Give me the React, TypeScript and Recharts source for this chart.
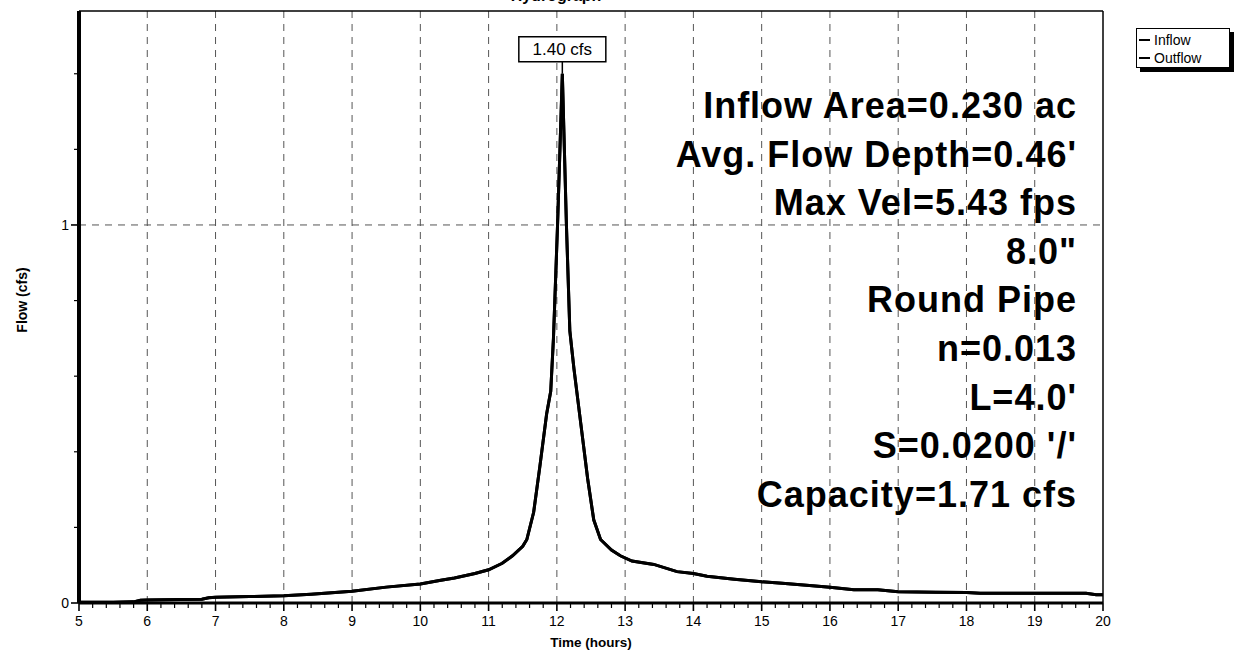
import React from 'react';
import { LineChart, Line, XAxis, YAxis, ReferenceLine, ReferenceDot } from 'recharts';

const timeHours = [
  5.0, 5.5, 5.8, 5.9, 6.0, 6.5, 6.8, 6.9, 7.0, 7.5, 8.0, 8.4, 8.7, 9.0, 9.5, 10.0, 10.3, 10.5, 10.8, 11.0,
  11.2, 11.35, 11.5, 11.56, 11.66, 11.75, 11.85, 11.91, 11.95, 12.01, 12.08, 12.14, 12.19, 12.25, 12.35,
  12.45, 12.54, 12.64, 12.8, 12.93, 13.1, 13.42, 13.76, 14.0, 14.2, 14.6, 15.0, 15.3, 15.7, 16.0, 16.35,
  16.7, 17.0, 17.55, 18.0, 18.2, 19.0, 19.75, 19.9, 20.0,
];
const inflowCfs = [
  0.002, 0.002, 0.003, 0.007, 0.008, 0.009, 0.01, 0.014, 0.015, 0.017, 0.019, 0.023, 0.027, 0.031, 0.042,
  0.05, 0.06, 0.066, 0.078, 0.088, 0.105, 0.125, 0.15, 0.168, 0.24, 0.36, 0.5, 0.56, 0.7, 1.0, 1.4, 1.0,
  0.72, 0.62, 0.475, 0.33, 0.22, 0.168, 0.14, 0.125, 0.111, 0.102, 0.083, 0.078, 0.071, 0.063, 0.056,
  0.052, 0.046, 0.0415, 0.035, 0.035, 0.03, 0.0285, 0.028, 0.026, 0.026, 0.026, 0.022, 0.022,
];
const outflowCfs = [
  0.002, 0.002, 0.003, 0.007, 0.008, 0.009, 0.01, 0.014, 0.015, 0.017, 0.019, 0.023, 0.027, 0.031, 0.042,
  0.05, 0.06, 0.066, 0.078, 0.088, 0.105, 0.125, 0.15, 0.168, 0.24, 0.36, 0.5, 0.56, 0.7, 1.0, 1.4, 1.0,
  0.72, 0.62, 0.475, 0.33, 0.22, 0.168, 0.14, 0.125, 0.111, 0.102, 0.083, 0.078, 0.071, 0.063, 0.056,
  0.052, 0.046, 0.0415, 0.035, 0.035, 0.03, 0.0285, 0.028, 0.026, 0.026, 0.026, 0.022, 0.022,
];

const xMajorTicks = [5, 6, 7, 8, 9, 10, 11, 12, 13, 14, 15, 16, 17, 18, 19, 20];
const xGridHours = [6, 7, 8, 9, 10, 11, 12, 13, 14, 15, 16, 17, 18, 19];
const xAllTicks = Array.from({ length: 76 }, (_, i) => Math.round((5 + i * 0.2) * 10) / 10);
const yMajorTicks = [0, 1];
const yAllTicks = [0, 0.2, 0.4, 0.6, 0.8, 1, 1.2, 1.4];
const yGridValues = [1];
const X_DOMAIN: [number, number] = [5, 20];
const Y_MAX = 1.566;

const peakTime = 12.08;
const peakFlow = 1.4;
const peakLabel = '1.40 cfs';

const legendItems = ['Inflow', 'Outflow'];
const annotationLines = [
  'Inflow Area=0.230 ac',
  'Avg. Flow Depth=0.46\'',
  'Max Vel=5.43 fps',
  '8.0"',
  'Round Pipe',
  'n=0.013',
  'L=4.0\'',
  'S=0.0200 \'/\'',
  'Capacity=1.71 cfs',
];
const chartTitle = 'Hydrograph';
const xLabel = 'Time  (hours)';
const yLabel = 'Flow  (cfs)';

const data = timeHours.map((t, i) => ({ t, inflow: inflowCfs[i], outflow: outflowCfs[i] }));

const FONT = '"Liberation Sans", Arial, Helvetica, sans-serif';

const XTick = (props: any) => {
  const { x, y, payload } = props;
  const v = payload.value;
  const major = xMajorTicks.includes(v);
  return (
    <g>
      <line x1={x} y1={y} x2={x} y2={y + (major ? 8 : 5)} stroke="#000" strokeWidth={major ? 1.6 : 1.2} />
      {major && (
        <text x={x} y={y + 23} textAnchor="middle" fontSize={14} fontFamily={FONT} fill="#000">
          {v}
        </text>
      )}
    </g>
  );
};

const YTick = (props: any) => {
  const { x, y, payload } = props;
  const v = payload.value;
  const major = yMajorTicks.includes(v);
  return (
    <g>
      <line x1={x} y1={y} x2={x - (major ? 8 : 5)} y2={y} stroke="#000" strokeWidth={major ? 1.6 : 1.2} />
      {major && (
        <text x={x - 10} y={y} textAnchor="end" dominantBaseline="central" fontSize={14} fontFamily={FONT} fill="#000">
          {v}
        </text>
      )}
    </g>
  );
};

const PeakShape = (props: any) => {
  const { cx, cy } = props;
  if (cx == null || cy == null) return null;
  const w = 87;
  const h = 25;
  const gap = 12;
  return (
    <g>
      <line x1={cx} y1={cy} x2={cx} y2={cy - gap} stroke="#000" strokeWidth={1.5} />
      <rect x={cx - w / 2} y={cy - gap - h} width={w} height={h} fill="#fff" stroke="#000" strokeWidth={1.5} />
      <text x={cx} y={cy - gap - h / 2} textAnchor="middle" dominantBaseline="central" fontSize={17} fontFamily={FONT} fill="#000">
        {peakLabel}
      </text>
    </g>
  );
};

export default function App() {
  return (
    <div style={{ position: 'absolute', left: 0, top: 0, width: 1235, height: 656, background: '#fff', overflow: 'hidden', fontFamily: FONT }}>
      <LineChart width={1235} height={656} data={data} margin={{ top: 11, right: 132, bottom: 23, left: 49 }}>
        <XAxis
          type="number"
          dataKey="t"
          domain={X_DOMAIN}
          ticks={xAllTicks}
          interval={0}
          height={30}
          axisLine={{ stroke: '#000', strokeWidth: 3 }}
          tickLine={false}
          tickSize={0}
          tickMargin={0}
          tick={XTick}
          allowDataOverflow
          label={{ value: xLabel, position: 'bottom', offset: 4, fontSize: 13.5, fontWeight: 'bold', fill: '#000', fontFamily: FONT }}
        />
        <YAxis
          type="number"
          domain={[0, Y_MAX]}
          ticks={yAllTicks}
          interval={0}
          width={30}
          axisLine={{ stroke: '#000', strokeWidth: 4 }}
          tickLine={false}
          tickSize={0}
          tickMargin={0}
          tick={YTick}
          allowDataOverflow
          label={{
            content: (p: any) => {
              const vb = p.viewBox || { y: 11, height: 592 };
              const cy = vb.y + vb.height / 2 - 7;
              return (
                <text x={22} y={cy} transform={`rotate(-90 22 ${cy})`} textAnchor="middle" dominantBaseline="central" fontSize={14} fontWeight="bold" fontFamily={FONT} fill="#000">
                  {yLabel}
                </text>
              );
            },
          }}
        />
        {xGridHours.map((h) => (
          <ReferenceLine key={`gx${h}`} x={h} stroke="#555" strokeWidth={1} strokeDasharray="7 6" />
        ))}
        {yGridValues.map((v) => (
          <ReferenceLine key={`gy${v}`} y={v} stroke="#555" strokeWidth={1} strokeDasharray="7 6" />
        ))}
        <ReferenceLine y={Y_MAX} stroke="#000" strokeWidth={1.5} />
        <ReferenceLine x={20} stroke="#000" strokeWidth={1.5} />
        <Line type="linear" dataKey="outflow" stroke="#000" strokeWidth={3} dot={false} isAnimationActive={false} />
        <Line type="linear" dataKey="inflow" stroke="#000" strokeWidth={3} dot={false} isAnimationActive={false} />
        <ReferenceDot x={peakTime} y={peakFlow} r={0} shape={PeakShape} />
      </LineChart>

      <div style={{ position: 'absolute', left: 456, width: 200, top: -13, textAlign: 'center', fontSize: 16, fontWeight: 'bold', color: '#000' }}>
        {chartTitle}
      </div>

      <div style={{ position: 'absolute', left: 0, width: 1077, top: 82, textAlign: 'right', fontSize: 36, fontWeight: 'bold', letterSpacing: 1, color: '#000', lineHeight: '48.6px', whiteSpace: 'pre' }}>
        {annotationLines.map((l) => (
          <div key={l}>{l}</div>
        ))}
      </div>

      <div
        style={{
          position: 'absolute',
          left: 1136,
          top: 28,
          width: 94,
          height: 40,
          border: '1px solid #000',
          background: '#fff',
          boxShadow: '4px 4px 0 #000',
          fontSize: 14,
          color: '#000',
          padding: '2px 0 0 2px',
          boxSizing: 'border-box',
        }}
      >
        {legendItems.map((name) => (
          <div key={name} style={{ display: 'flex', alignItems: 'center', height: 18 }}>
            <span style={{ display: 'inline-block', width: 11, height: 2, background: '#000', marginRight: 4 }} />
            <span>{name}</span>
          </div>
        ))}
      </div>
    </div>
  );
}
